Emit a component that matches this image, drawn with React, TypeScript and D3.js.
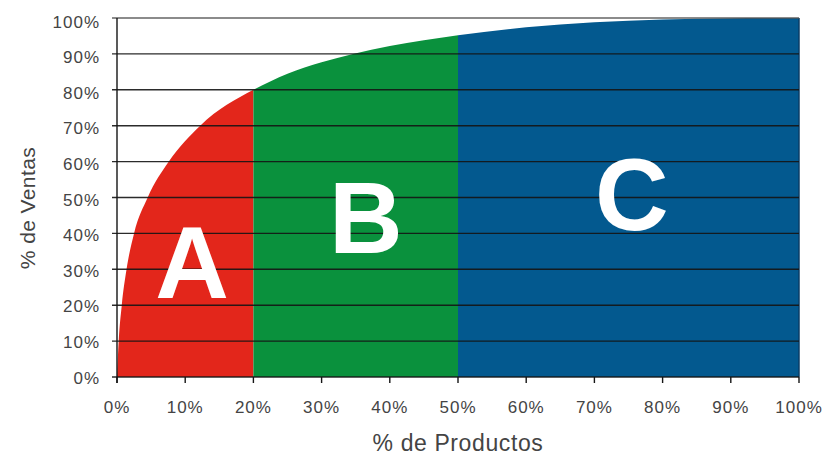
import React from "react";
import * as d3 from "d3";

const productPct = [0, 0.25, 0.7, 1.4, 2.5, 4.5, 7.6, 12.2, 20, 25, 30, 34.6, 40, 45, 50, 60, 70, 80, 90, 100];
const salesPct = [0, 10, 20, 30, 40, 50, 60, 70, 80, 84.5, 87.7, 90, 92.2, 93.8, 95.2, 97.4, 98.8, 99.6, 99.95, 100];
const zones = [
  { label: "A", from: 0, to: 20, color: "#e3261b" },
  { label: "B", from: 20, to: 50, color: "#0a913d" },
  { label: "C", from: 50, to: 100, color: "#03598f" },
];
const labelPos = [
  { label: "A", x: 11, y: 22 },
  { label: "B", x: 36.5, y: 34.5 },
  { label: "C", x: 75.5, y: 41 },
];
const ticks = [0, 10, 20, 30, 40, 50, 60, 70, 80, 90, 100];

export default function App() {
  const W = 827, H = 456;
  const x = d3.scaleLinear().domain([0, 100]).range([117, 799]);
  const y = d3.scaleLinear().domain([0, 100]).range([377, 18]);
  const pts: [number, number][] = productPct.map((p, i) => [p, salesPct[i]]);
  const interp = (px: number) => {
    for (let i = 1; i < pts.length; i++) {
      if (px <= pts[i][0]) {
        const [x0, y0] = pts[i - 1];
        const [x1, y1] = pts[i];
        return y0 + ((y1 - y0) * (px - x0)) / (x1 - x0 || 1);
      }
    }
    return 100;
  };
  const area = d3
    .area<[number, number]>()
    .x((d) => x(d[0]))
    .y0(y(0))
    .y1((d) => y(d[1]))
    .curve(d3.curveMonotoneX);
  const zoneData = zones.map((z) => {
    const inside = pts.filter((p) => p[0] > z.from && p[0] < z.to);
    return [[z.from, interp(z.from)] as [number, number], ...inside, [z.to, interp(z.to)] as [number, number]];
  });
  const font = "'Liberation Sans', Arial, sans-serif";
  return (
    <svg width={W} height={H} style={{ position: "absolute", left: 0, top: 0, background: "#fff" }}>
      {zones.map((z, i) => (
        <path key={z.label} d={area(zoneData[i]) || ""} fill={z.color} />
      ))}
      <line x1={x(100)} x2={x(100)} y1={y(100)} y2={y(0)} stroke="#0a3d66" strokeWidth={1.5} />
      {ticks.map((t) => (
        <line
          key={"g" + t}
          x1={112}
          x2={x(100)}
          y1={y(t)}
          y2={y(t)}
          stroke={t === 100 ? "#555" : "#151515"}
          strokeWidth={1.4}
          opacity={0.9}
        />
      ))}
      <line x1={x(0)} x2={x(0)} y1={y(100)} y2={y(0) + 6} stroke="#151515" strokeWidth={1.4} />
      {ticks.map((t) => (
        <line key={"xt" + t} x1={x(t)} x2={x(t)} y1={y(0)} y2={y(0) + 6} stroke="#151515" strokeWidth={1.4} />
      ))}
      {labelPos.map((l) => (
        <text
          key={l.label}
          x={x(l.x)}
          y={y(l.y)}
          textAnchor="middle"
          fill="#fff"
          fontFamily={font}
          fontWeight="bold"
          fontSize={102}
        >
          {l.label}
        </text>
      ))}
      {ticks.map((t) => (
        <text
          key={"yl" + t}
          x={100}
          y={y(t) + 6.5 + (t / 100) * 3}
          textAnchor="end"
          fill="#444"
          fontFamily={font}
          fontSize={17}
          letterSpacing={1}
        >
          {t}%
        </text>
      ))}
      {ticks.map((t) => (
        <text
          key={"xl" + t}
          x={x(t)}
          y={413}
          textAnchor="middle"
          fill="#444"
          fontFamily={font}
          fontSize={17}
          letterSpacing={1}
        >
          {t}%
        </text>
      ))}
      <text x={x(50)} y={451} textAnchor="middle" fill="#444" fontFamily={font} fontSize={23} letterSpacing={0.6}>
        % de Productos
      </text>
      <text
        transform={`translate(35,208) rotate(-90)`}
        textAnchor="middle"
        fill="#444"
        fontFamily={font}
        fontSize={21}
        letterSpacing={0.4}
      >
        % de Ventas
      </text>
    </svg>
  );
}
